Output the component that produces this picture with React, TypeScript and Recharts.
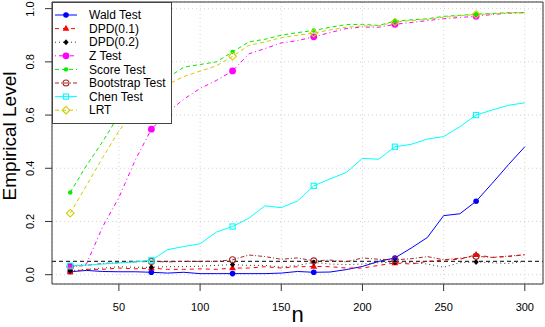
import React from 'react';
import {
  CartesianGrid,
  Label,
  Legend,
  Line,
  LineChart,
  ReferenceArea,
  ReferenceLine,
  XAxis,
  YAxis,
} from 'recharts';

const sampleSizes = [
  20, 30, 40, 50, 60, 70, 80, 90, 100, 110, 120, 130, 140, 150, 160, 170, 180,
  190, 200, 210, 220, 230, 240, 250, 260, 270, 280, 290, 300,
];
const waldTest = [
  0.011, 0.016, 0.012, 0.011, 0.011, 0.009, 0.006, 0.009, 0.004, 0.004, 0.004,
  0.004, 0.004, 0.006, 0.012, 0.009, 0.01, 0.019, 0.031, 0.05, 0.063, 0.1, 0.14,
  0.222, 0.229, 0.276, 0.344, 0.414, 0.481,
];
const dpd01 = [
  0.01, 0.02, 0.02, 0.025, 0.022, 0.025, 0.02, 0.02, 0.022, 0.02, 0.025, 0.025,
  0.03, 0.025, 0.03, 0.031, 0.03, 0.025, 0.025, 0.035, 0.044, 0.04, 0.05, 0.055,
  0.058, 0.075, 0.065, 0.068, 0.075,
];
const dpd02 = [
  0.015, 0.02, 0.025, 0.03, 0.028, 0.028, 0.03, 0.03, 0.032, 0.035, 0.038, 0.035,
  0.035, 0.028, 0.035, 0.046, 0.04, 0.038, 0.04, 0.045, 0.047, 0.045, 0.04,
  0.028, 0.045, 0.048, 0.045, 0.042, 0.05,
];
const zTest = [
  0.031, 0.04, 0.18, 0.29, 0.43, 0.547, 0.61, 0.66, 0.7, 0.73, 0.766, 0.83, 0.85,
  0.871, 0.88, 0.894, 0.91, 0.925, 0.931, 0.93, 0.941, 0.948, 0.955, 0.962,
  0.967, 0.971, 0.978, 0.983, 0.985,
];
const scoreTest = [
  0.309, 0.41, 0.5, 0.6, 0.66, 0.71, 0.74, 0.78, 0.79, 0.8, 0.837, 0.875, 0.885,
  0.9, 0.91, 0.918, 0.93, 0.94, 0.941, 0.937, 0.953, 0.958, 0.962, 0.971, 0.975,
  0.979, 0.982, 0.985, 0.985,
];
const bootstrapTest = [
  0.03, 0.035, 0.042, 0.045, 0.048, 0.05, 0.048, 0.05, 0.05, 0.05, 0.056, 0.074,
  0.068, 0.058, 0.063, 0.052, 0.055, 0.048, 0.063, 0.058, 0.056, 0.06, 0.068,
  0.056, 0.062, 0.069, 0.065, 0.07, 0.075,
];
const chenTest = [
  0.034, 0.036, 0.04, 0.044, 0.048, 0.054, 0.094, 0.106, 0.116, 0.16, 0.181,
  0.212, 0.259, 0.252, 0.277, 0.334, 0.36, 0.384, 0.437, 0.434, 0.481, 0.49,
  0.51, 0.519, 0.556, 0.6, 0.619, 0.637, 0.646,
];
const lrt = [
  0.231, 0.335, 0.44, 0.54, 0.62, 0.68, 0.715, 0.745, 0.765, 0.785, 0.821, 0.862,
  0.875, 0.891, 0.9, 0.908, 0.92, 0.93, 0.935, 0.935, 0.95, 0.955, 0.96, 0.968,
  0.973, 0.978, 0.98, 0.984, 0.985,
];
const nominalLevel = 0.05;
const xTicks = [50, 100, 150, 200, 250, 300];
const yTicks = [0, 0.2, 0.4, 0.6, 0.8, 1.0];

const data = sampleSizes.map((n, i) => ({
  n,
  wald: waldTest[i],
  dpd01: dpd01[i],
  dpd02: dpd02[i],
  z: zTest[i],
  score: scoreTest[i],
  boot: bootstrapTest[i],
  chen: chenTest[i],
  lrt: lrt[i],
}));

const FONT = '"Liberation Sans", Arial, sans-serif';

const seriesList = [
  { key: 'wald', name: 'Wald Test', color: '#0000ff', dash: undefined, marker: 'dot' },
  { key: 'dpd01', name: 'DPD(0.1)', color: '#ff0000', dash: '4 4', marker: 'triangle' },
  { key: 'dpd02', name: 'DPD(0.2)', color: '#333333', dash: '1 3', marker: 'diamond' },
  { key: 'z', name: 'Z Test', color: '#ff00ff', dash: '1 3 4 3', marker: 'bigdot' },
  { key: 'score', name: 'Score Test', color: '#00ee00', dash: '4 3', marker: 'smalldot' },
  { key: 'boot', name: 'Bootstrap Test', color: '#a52a2a', dash: '4 2 1 2', marker: 'circle' },
  { key: 'chen', name: 'Chen Test', color: '#00ffff', dash: undefined, marker: 'square' },
  { key: 'lrt', name: 'LRT', color: '#cdcd00', dash: '4 3', marker: 'odiamond' },
];

const Marker = ({ shape, color, x, y }: any) => {
  switch (shape) {
    case 'dot':
      return <circle cx={x} cy={y} r={2.8} fill={color} />;
    case 'bigdot':
      return <circle cx={x} cy={y} r={3.4} fill={color} />;
    case 'smalldot':
      return <circle cx={x} cy={y} r={2.2} fill={color} />;
    case 'triangle':
      return (
        <polygon
          points={`${x},${y - 3.8} ${x - 3.4},${y + 2.2} ${x + 3.4},${y + 2.2}`}
          fill={color}
        />
      );
    case 'diamond':
      return (
        <polygon
          points={`${x},${y - 3} ${x + 2.6},${y} ${x},${y + 3} ${x - 2.6},${y}`}
          fill="#000"
        />
      );
    case 'circle':
      return <circle cx={x} cy={y} r={3} fill="none" stroke={color} strokeWidth={1.1} />;
    case 'square':
      return (
        <rect x={x - 2.6} y={y - 2.6} width={5.2} height={5.2} fill="none" stroke={color} strokeWidth={1.1} />
      );
    case 'odiamond':
      return (
        <polygon
          points={`${x},${y - 3.8} ${x + 3.8},${y} ${x},${y + 3.8} ${x - 3.8},${y}`}
          fill="none"
          stroke={color}
          strokeWidth={1.1}
        />
      );
    default:
      return null;
  }
};

const renderLegend = () => (
  <svg width={120} height={122} style={{ display: 'block' }}>
    <rect x={0.5} y={0.5} width={119} height={121} fill="#fff" stroke="#444" />
    {seriesList.map((s, i) => {
      const y = 13 + i * 13.6;
      return (
        <g key={s.key}>
          <line x1={3} x2={25} y1={y} y2={y} stroke={s.color} strokeDasharray={s.dash} />
          <Marker shape={s.marker} color={s.color} x={14} y={y} />
          <text x={37} y={y + 4.2} fontSize={12} fontFamily={FONT} fill="#000">
            {s.name}
          </text>
        </g>
      );
    })}
  </svg>
);

const XTick = ({ x, payload }: any) => (
  <text x={x} y={311} textAnchor="middle" fontSize={11} fontFamily={FONT} fill="#000">
    {payload.value}
  </text>
);

const YTick = ({ y, payload }: any) => (
  <text
    transform={`translate(34,${y}) rotate(-90)`}
    textAnchor="middle"
    fontSize={11}
    fontFamily={FONT}
    fill="#000"
  >
    {payload.value.toFixed(1)}
  </text>
);

const EmpiricalLevelChart = () => (
  <div style={{ position: 'absolute', left: 0, top: 0 }}>
    <LineChart
      width={545}
      height={327}
      data={data}
      margin={{ top: 2, right: 2, left: 0, bottom: 0 }}
    >
      <CartesianGrid stroke="#d3d3d3" strokeDasharray="1 3" />
      <XAxis
        dataKey="n"
        type="number"
        domain={[8.8, 311.2]}
        ticks={xTicks}
        height={43}
        tickSize={7}
        tick={<XTick />}
        axisLine={false}
        tickLine={{ stroke: '#333' }}
      >
        <Label
          content={() => (
            <text x={297.5} y={322} textAnchor="middle" fontSize={22} fontFamily={FONT} fill="#000">
              n
            </text>
          )}
        />
      </XAxis>
      <YAxis
        type="number"
        domain={[-0.035, 1.025]}
        ticks={yTicks}
        width={52}
        tickSize={7}
        tick={<YTick />}
        axisLine={false}
        tickLine={{ stroke: '#333' }}
      >
        <Label
          content={() => (
            <text
              transform="translate(16,136) rotate(-90)"
              textAnchor="middle"
              fontSize={19}
              fontFamily={FONT}
              fill="#000"
            >
              Empirical Level
            </text>
          )}
        />
      </YAxis>
      <ReferenceLine y={nominalLevel} stroke="#333" strokeDasharray="4 3" strokeWidth={1.2} />
      {seriesList.map((s) => (
        <Line
          key={s.key}
          dataKey={s.key}
          name={s.name}
          type="linear"
          stroke={s.color}
          strokeWidth={1}
          strokeDasharray={s.dash}
          isAnimationActive={false}
          dot={(p: any) =>
            p.index % 5 === 0 ? (
              <g key={`${s.key}-${p.index}`}>
                <Marker shape={s.marker} color={s.color} x={p.cx} y={p.cy} />
              </g>
            ) : (
              <g key={`${s.key}-${p.index}`} />
            )
          }
          activeDot={false}
        />
      ))}
      <ReferenceArea
        x1={8.8}
        x2={311.2}
        y1={-0.035}
        y2={1.025}
        fill="none"
        stroke="#333"
        strokeWidth={1}
      />
      <Legend
        layout="vertical"
        align="center"
        verticalAlign="middle"
        content={renderLegend}
        wrapperStyle={{ left: 52, top: 2, width: 120, height: 122 }}
      />
    </LineChart>
  </div>
);

export default EmpiricalLevelChart;
